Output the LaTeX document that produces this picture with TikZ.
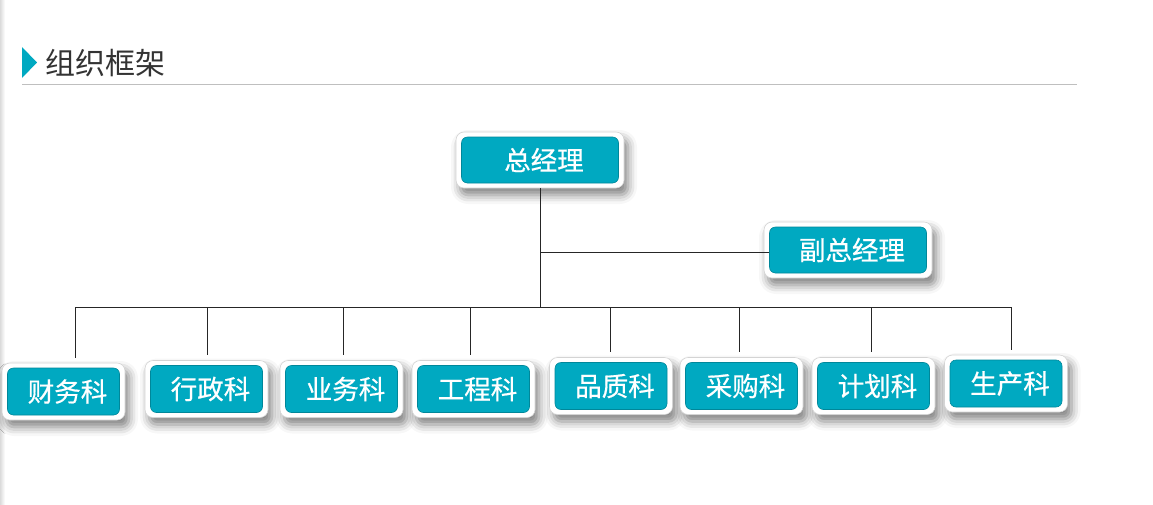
\documentclass[tikz,border=0pt]{standalone}
\usepackage{fontspec}
\newfontfamily\cjk{Noto Sans CJK SC}
\newfontfamily\cjkb[FakeBold=0.6]{Noto Sans CJK SC}
\usetikzlibrary{shadows.blur}
\definecolor{teal1}{HTML}{00A9C1}
\definecolor{titlegray}{HTML}{333333}
\newcommand\orgbox[6]{%
  \node[outerbox, minimum width=#4pt, minimum height=#5pt] (#1-o) at (#2,#3) {};
  \node[innerbox, minimum width={#4-11}, minimum height={#5-10}] (#1) at (#2,#3) {\hspace*{8pt}#6};
}
\begin{document}
\begin{tikzpicture}[x=1pt,y=-1pt,
  outerbox/.style={draw=black!17, line width=0.6pt, fill=white, rounded corners=8pt, inner sep=0pt,
    blur shadow={shadow xshift=4pt, shadow yshift=-7pt, shadow blur radius=9pt, shadow opacity=50}},
  innerbox/.style={fill=teal1, draw=teal1!80!black, line width=0.6pt, rounded corners=6pt, inner sep=0pt,
    text=white, font=\cjkb\fontsize{26.5}{26.5}\selectfont},
  conn/.style={draw=black!85, line width=0.7pt}]
\useasboundingbox (0,0) rectangle (1153,504);
\shade[left color=black!14, right color=white] (0,0) rectangle (5,504);
% title
\fill[teal1] (22,47) -- (37,62.5) -- (22,78) -- cycle;
\node[anchor=west, inner sep=0pt, text=titlegray, font=\cjk\fontsize{30}{30}\selectfont] (title) at (45,63) {组织框架};
\coordinate (tl1) at (22,84);
\coordinate (tl2) at (1077,84);
\draw[black!25, line width=0.8pt] (tl1) -- (tl2);
% boxes
\orgbox{zjl}{540}{160}{168}{56}{总经理}
\orgbox{fzjl}{848}{250}{168}{56}{副总经理}
\orgbox{b1}{63.5}{391.5}{123}{57}{财务科}
\orgbox{b2}{206.5}{389}{123}{57}{行政科}
\orgbox{b3}{341.5}{389}{123}{57}{业务科}
\orgbox{b4}{473.5}{389}{123}{57}{工程科}
\orgbox{b5}{611}{386}{123}{57}{品质科}
\orgbox{b6}{741.5}{386}{123}{57}{采购科}
\orgbox{b7}{873.5}{386}{123}{57}{计划科}
\orgbox{b8}{1006}{383.5}{123}{57}{生产科}
% connectors
\coordinate (d1) at (75,307);
\coordinate (d2) at (207,307);
\coordinate (d3) at (343,307);
\coordinate (d4) at (470,307);
\coordinate (d5) at (610,307);
\coordinate (d6) at (739,307);
\coordinate (d7) at (871,307);
\coordinate (d8) at (1011,307);
\coordinate (mid) at (540,252);
\draw[conn] (zjl-o.south) -- (zjl-o.south |- d1);
\draw[conn] (mid) -- (mid -| fzjl.west);
\draw[conn] (d1) -- (d8);
\foreach \i in {1,...,8}{
  \draw[conn, shorten >=5pt] (d\i) -- (d\i |- b\i-o.north);
}
\end{tikzpicture}
\end{document}
